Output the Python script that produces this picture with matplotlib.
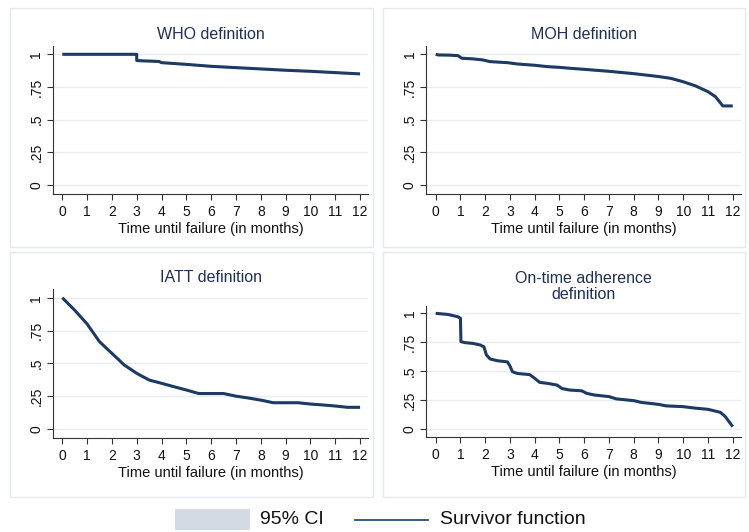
import matplotlib
matplotlib.use("Agg")
import matplotlib.pyplot as plt
from matplotlib.patches import Rectangle
from matplotlib.lines import Line2D
import numpy as np

plt.rcParams['font.family'] = ['Liberation Sans', 'DejaVu Sans']

titles = ["WHO definition", "MOH definition", "IATT definition", "On-time adherence\ndefinition"]

who_t = [0, 3.0, 3.0, 3.9, 4.0, 5.0, 6.0, 7.0, 8.0, 9.0, 10.0, 11.0, 12.0]
who_s = [1.0, 1.0, 0.952, 0.945, 0.936, 0.923, 0.908, 0.898, 0.888, 0.878, 0.870, 0.860, 0.850]

moh_t = [0, 0.1, 0.5, 0.9, 1.05, 1.5, 1.9, 2.2, 2.9, 3.3, 4.0, 4.5, 5.0, 5.5, 6.0, 7.0, 8.0, 9.0, 9.5, 10.0, 10.5, 11.0, 11.3, 11.6, 12.0]
moh_s = [1.0, 0.995, 0.994, 0.99, 0.97, 0.965, 0.957, 0.944, 0.936, 0.926, 0.916, 0.906, 0.900, 0.892, 0.885, 0.870, 0.852, 0.830, 0.816, 0.790, 0.758, 0.714, 0.676, 0.605, 0.605]

iatt_t = [0, 0.5, 1.0, 1.5, 2.0, 2.5, 3.0, 3.5, 4.0, 4.5, 5.0, 5.5, 6.0, 6.5, 7.0, 7.5, 8.0, 8.5, 9.0, 9.5, 10.0, 10.5, 11.0, 11.5, 12.0]
iatt_s = [1.0, 0.905, 0.80, 0.665, 0.576, 0.487, 0.424, 0.373, 0.348, 0.322, 0.297, 0.27, 0.27, 0.27, 0.25, 0.236, 0.22, 0.20, 0.20, 0.20, 0.19, 0.183, 0.175, 0.165, 0.165]

ota_t = [0, 0.5, 0.9, 1.0, 1.02, 1.2, 1.5, 1.8, 1.95, 2.05, 2.2, 2.5, 2.9, 3.0, 3.1, 3.3, 3.8, 4.0, 4.2, 4.5, 4.9, 5.1, 5.4, 5.9, 6.1, 6.4, 7.0, 7.3, 8.0, 8.3, 9.0, 9.3, 10.0, 10.5, 11.0, 11.5, 11.7, 12.0]
ota_s = [1.0, 0.99, 0.97, 0.957, 0.755, 0.746, 0.74, 0.726, 0.71, 0.64, 0.605, 0.59, 0.58, 0.545, 0.495, 0.48, 0.47, 0.438, 0.403, 0.395, 0.38, 0.35, 0.337, 0.33, 0.308, 0.294, 0.28, 0.26, 0.245, 0.23, 0.213, 0.20, 0.193, 0.18, 0.17, 0.144, 0.107, 0.02]

series = [(who_t, who_s), (moh_t, moh_s), (iatt_t, iatt_s), (ota_t, ota_s)]

xticks = list(range(0, 13))
yticks = [0, 0.25, 0.5, 0.75, 1]
ytick_labels = ["0", ".25", ".5", ".75", "1"]

W, H = 749, 532
fig = plt.figure(figsize=(W / 100, H / 100), dpi=100)
fig.patch.set_facecolor('white')

line_col = '#1c3a63'
ci_col = '#d3dae3'
title_col = '#1f2f55'
border_col = '#e3eaef'

# panel borders (px: x0, y0, x1, y1 from top)
panels = [(10, 8, 373, 247), (383, 8, 745, 247), (10, 252, 373, 497), (383, 252, 745, 497)]
for (x0, y0, x1, y1) in panels:
    fig.patches.append(Rectangle((x0 / W, 1 - y1 / H), (x1 - x0) / W, (y1 - y0) / H,
                                 transform=fig.transFigure, facecolor='white',
                                 edgecolor=border_col, linewidth=1.0, zorder=-10))

# axes positions in px (left, top, right, bottom)
ax_px = [(53.0, 45.8, 368.2, 193.5), (426.4, 45.8, 740.9, 193.5),
         (53.0, 289.2, 368.2, 437.5), (426.4, 305.8, 740.9, 436.5)]

xlim = (-0.375, 12.33)
ylim = (-0.065, 1.065)

for i, (l, t, r, b) in enumerate(ax_px):
    ax = fig.add_axes([l / W, 1 - b / H, (r - l) / W, (b - t) / H])
    ax.set_zorder(5)
    ax.set_facecolor('none')
    tt, ss = series[i]
    tt = np.array(tt)
    ss = np.array(ss)
    ax.fill_between(tt, ss - 0.006, np.minimum(ss + 0.006, 1.0), color=ci_col, lw=0, zorder=2)
    ax.plot(tt, ss, color=line_col, lw=2.2, solid_capstyle='butt', zorder=3)
    ax.set_xlim(*xlim)
    ax.set_ylim(*ylim)
    ax.set_xticks(xticks)
    ax.set_yticks(yticks)
    ax.set_yticklabels(ytick_labels, rotation=90, va='center')
    for y in yticks:
        ax.axhline(y, color='#e6eef3', lw=1.0, zorder=1)
    ax.spines['top'].set_visible(False)
    ax.spines['right'].set_visible(False)
    ax.spines['left'].set_color('#333333')
    ax.spines['bottom'].set_color('#333333')
    ax.spines['left'].set_linewidth(0.8)
    ax.spines['bottom'].set_linewidth(0.8)
    ax.tick_params(axis='x', direction='out', length=4, width=0.8, color='#333333',
                   labelsize=10, labelcolor='#111111', pad=4)
    ax.tick_params(axis='y', direction='out', length=4, width=0.8, color='#333333',
                   labelsize=10, labelcolor='#111111', pad=3)
    ax.set_xlabel("Time until failure (in months)", fontsize=10.5, color='#111111', labelpad=2.5)
    ax.set_title(titles[i], fontsize=11.5, color=title_col, pad=5, linespacing=1.1)

# legend
fig.patches.append(Rectangle((175 / W, 1 - 530 / H), 75 / W, 21 / H, transform=fig.transFigure,
                             facecolor=ci_col, edgecolor='none'))
fig.text(260 / W, 1 - 520 / H, "95% CI", fontsize=14, va='center', ha='left', color='#111111')
fig.lines.append(Line2D([355 / W, 428 / W], [1 - 520 / H, 1 - 520 / H], transform=fig.transFigure,
                        color='#2d4f7a', lw=1.3))
fig.text(440 / W, 1 - 520 / H, "Survivor function", fontsize=14, va='center', ha='left', color='#111111')

fig.savefig("out.png", dpi=100)
